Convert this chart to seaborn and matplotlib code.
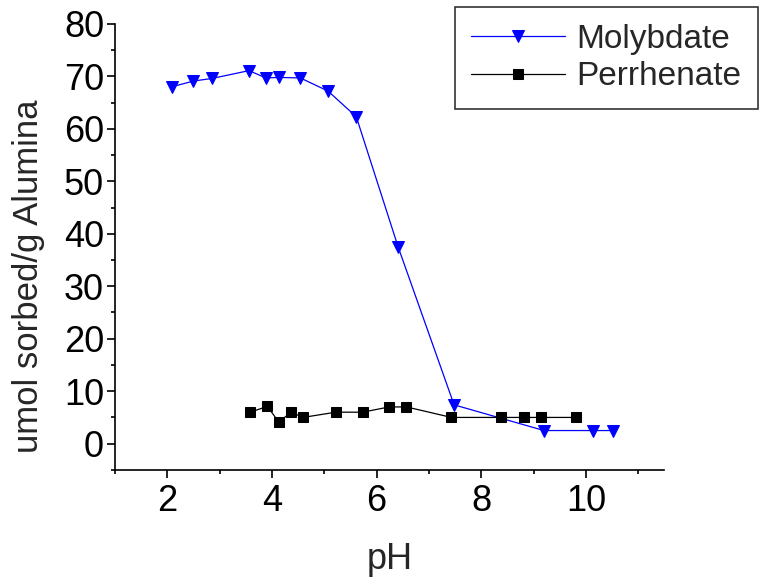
import numpy as np
import pandas as pd
import matplotlib
matplotlib.use("Agg")
import matplotlib.pyplot as plt
from matplotlib.ticker import MultipleLocator
import seaborn as sns

# Values
moly_ph = [2.08, 2.49, 2.85, 3.56, 3.88, 4.14, 4.54, 5.07, 5.61, 6.41, 7.48, 9.20, 10.13, 10.52]
moly_sorbed = [68.0, 69.1, 69.6, 71.1, 69.7, 69.8, 69.7, 67.2, 62.3, 37.5, 7.4, 2.5, 2.5, 2.5]

perr_ph = [3.58, 3.91, 4.13, 4.36, 4.59, 5.22, 5.73, 6.24, 6.57, 7.43, 8.37, 8.81, 9.14, 9.82]
perr_sorbed = [6.0, 7.1, 4.1, 6.0, 5.0, 6.0, 6.0, 7.0, 7.0, 5.0, 5.0, 5.0, 5.0, 5.0]

sns.set_style("ticks")
plt.rcParams['font.family'] = ['Liberation Sans', 'DejaVu Sans']

fig = plt.figure(figsize=(7.68, 5.83), dpi=100)
ax = fig.add_axes([0.150, 0.194, 0.715, 0.765])

sns.lineplot(x=moly_ph, y=moly_sorbed, ax=ax, color='blue', marker='v',
             markersize=8, markeredgecolor='blue', linewidth=0.9,
             label='Molybdate', sort=False)
sns.lineplot(x=perr_ph, y=perr_sorbed, ax=ax, color='black', marker='s',
             markersize=6.5, markeredgecolor='black', linewidth=0.9,
             label='Perrhenate', sort=False)

ax.set_xlim(1, 11.5)
ax.set_ylim(-5, 80)
ax.xaxis.set_major_locator(MultipleLocator(2))
ax.xaxis.set_minor_locator(MultipleLocator(1))
ax.yaxis.set_major_locator(MultipleLocator(10))
ax.yaxis.set_minor_locator(MultipleLocator(5))
ax.set_yticks(np.arange(0, 81, 10))
ax.set_xticks(np.arange(2, 11, 2))

ax.tick_params(which='major', direction='out', length=6, width=1.2, pad=2,
               labelsize=26, color='black', labelcolor='black')
ax.tick_params(axis='x', which='major', pad=4)
ax.tick_params(which='minor', direction='out', length=3, width=1.2, color='black')

for side in ['top', 'right']:
    ax.spines[side].set_visible(False)
for side in ['left', 'bottom']:
    ax.spines[side].set_color('black')
    ax.spines[side].set_linewidth(1.2)

ax.set_xlabel('pH', fontsize=26, labelpad=17)
ax.set_ylabel('umol sorbed/g Alumina', fontsize=25)
ax.yaxis.set_label_coords(-0.128, 0.435)

leg = ax.legend(loc='upper right', bbox_to_anchor=(758 / 768, 1 - 7 / 583),
                bbox_transform=fig.transFigure, borderaxespad=0, fontsize=24,
                frameon=True, fancybox=False, shadow=False, numpoints=1,
                handlelength=2.8, handletextpad=0.35, labelspacing=0.2,
                borderpad=0.5)
leg.get_frame().set_edgecolor('black')
leg.get_frame().set_linewidth(1.2)

fig.savefig('out.png', dpi=100)
